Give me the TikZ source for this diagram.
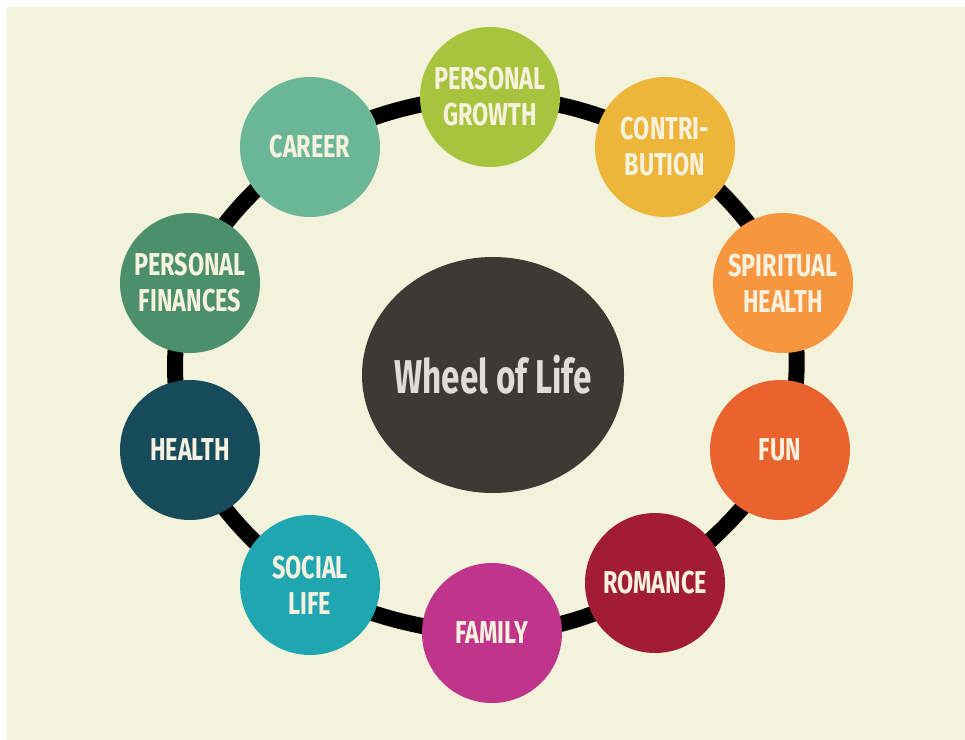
\documentclass[tikz,border=0pt]{standalone}
\usepackage{fontspec}
\usepackage{tikz}
\usetikzlibrary{shapes.geometric,backgrounds}

\newfontfamily\wheelfont[FakeStretch=0.74]{Fira Sans}
\newfontfamily\hubfont[FakeStretch=0.7]{Fira Sans}

\definecolor{cream}{HTML}{F3F3DC}
\definecolor{labeltext}{HTML}{F6F2DE}
\definecolor{hub}{HTML}{3C3A34}
\definecolor{hubtext}{HTML}{DEDDD6}
\definecolor{growthcol}{HTML}{A8C33D}
\definecolor{contribcol}{HTML}{EEB53B}
\definecolor{spiritcol}{HTML}{F7963F}
\definecolor{funcol}{HTML}{E9632F}
\definecolor{romancecol}{HTML}{A31C35}
\definecolor{familycol}{HTML}{C0358B}
\definecolor{socialcol}{HTML}{20A6B0}
\definecolor{healthcol}{HTML}{174B5C}
\definecolor{financecol}{HTML}{4B8F6B}
\definecolor{careercol}{HTML}{6BB697}

\begin{document}
\begin{tikzpicture}[x=0.2mm,y=-0.2mm,
    area/.style={circle,fill=#1,minimum size=2.8cm,inner sep=0pt,align=center,
        text=labeltext,font=\wheelfont\bfseries\fontsize{18}{20.5}\selectfont}]
        \useasboundingbox (0,0) rectangle (965,740);

        \node[ellipse,fill=hub,minimum width=5.24cm,minimum height=4.72cm,inner xsep=-6pt,inner ysep=0pt,
            text=hubtext,font=\hubfont\bfseries\fontsize{27}{30}\selectfont] (hub) at (493,375) {Wheel of Life};

        \node[area=growthcol]  (growth)  at (490,97)  {PERSONAL\\GROWTH};
        \node[area=contribcol] (contrib) at (665,147) {CONTRI-\\BUTION};
        \node[area=spiritcol]  (spirit)  at (783,283) {SPIRITUAL\\HEALTH};
        \node[area=funcol]     (fun)     at (780,450) {FUN};
        \node[area=romancecol] (romance) at (655,583) {ROMANCE};
        \node[area=familycol]  (family)  at (492,633) {FAMILY};
        \node[area=socialcol]  (social)  at (310,585) {SOCIAL\\LIFE};
        \node[area=healthcol]  (health)  at (190,450) {HEALTH};
        \node[area=financecol] (finance) at (190,283) {PERSONAL\\FINANCES};
        \node[area=careercol]  (career)  at (310,147) {CAREER};

        \begin{scope}[on background layer]
            \fill[white] (0,0) rectangle (965,740);
            \fill[cream] (7,7) rectangle (975,750);
            \draw[line width=0.32cm] plot[smooth cycle,tension=0.6] coordinates {
                (growth.center) (contrib.center) (spirit.center) (fun.center) (romance.center)
                (family.center) (social.center) (health.center) (finance.center) (career.center)};
        \end{scope}
    \end{tikzpicture}
\end{document}
